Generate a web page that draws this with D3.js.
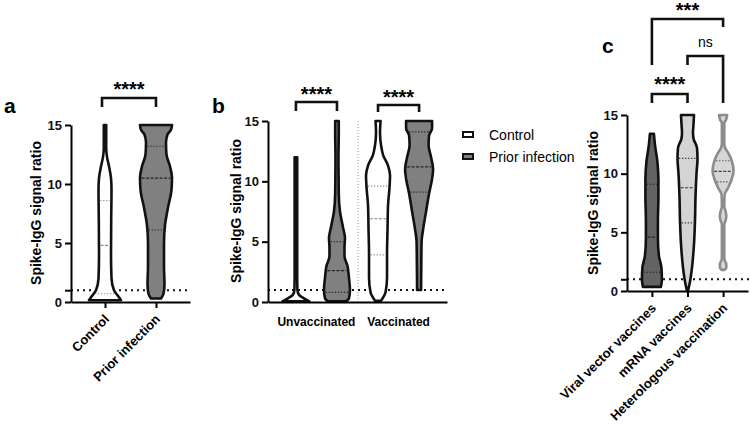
<!DOCTYPE html>
<html>
<head>
<meta charset="utf-8">
<script src="https://cdn.jsdelivr.net/npm/d3@7"></script>
<style>
body { margin: 0; background: #fff; }
text { font-family: "Liberation Sans", Arial, sans-serif; }
</style>
</head>
<body>
<svg width="751" height="428"></svg>
<script>
// ---- data ----
var yTicks = [0, 5, 10, 15];
var refLevel = 1;

var catsA = ["Control", "Prior infection"];
var groupsB = ["Unvaccinated", "Vaccinated"];
var seriesB = ["Control", "Prior infection"];
var catsC = ["Viral vector vaccines", "mRNA vaccines", "Heterologous vaccination"];

// violin outlines: [signal ratio, relative density]
var aControl = [[0.15,16],[0.4,14],[1,9],[2,6.5],[4,6],[7,6.2],[9.5,6.5],[10.5,6],[11.5,4],[12.3,2],[13,1.2],[15,1.2]];
var aPrior = [[0.3,5],[0.7,7.5],[1.5,8.5],[3,8],[5,8],[6.5,9],[8,12],[9.5,15.5],[10.5,16],[11.5,14],[12.5,10.5],[13.5,10],[14.2,11.5],[14.6,15],[15,16]];
var bUnvControl = [[0.05,13.5],[0.3,8],[0.6,3],[1,1.5],[2,1.3],[12,1.3]];
var bUnvPrior = [[0.05,9],[0.3,12],[1,13],[2,12],[3,10.5],[3.8,7.5],[4.5,7.5],[5.3,8],[6.2,6],[7.5,3],[9,1.8],[12,1.5],[14,1.8],[15,1.8]];
var bVacControl = [[0.1,3],[0.8,7.5],[2,9],[4,9],[6,9.5],[8,10],[9.5,11.5],[10.5,12],[11.3,10],[12.2,5],[13,3],[14,2],[15,2.5]];
var bVacPrior = [[1,2],[3,2.2],[5,2.5],[6,4],[7.5,7],[9,10],[10.2,13],[11,14],[12,12],[13,9.5],[13.8,10],[14.4,13],[15,13]];
var cViral = [[0.35,9],[1,10],[2,9.5],[3,7],[4.5,6],[6,6],[8,6.5],[9.5,6.5],[11,5.5],[12.5,3],[13.4,2]];
var cMrna = [[0,0.5],[0.8,2.5],[2,4.5],[4,6.5],[6,7.5],[8,8],[10,9],[11.3,10],[12.2,9.5],[13,6],[13.5,5.5],[14.2,6],[15,6.5]];
var cHetero = [[1.8,1.5],[2,3.2],[2.3,3.2],[2.7,1.3],[3.5,1.2],[5.7,1.2],[6,2.5],[6.4,3.2],[6.8,2.5],[7.2,1.2],[8.2,1.5],[8.8,5],[9.5,8.5],[10.2,10.5],[11,9],[11.8,5],[12.2,2],[12.6,1.2],[14.3,1.2],[14.6,3],[15,4]];

// quartiles: [Q1, median, Q3]
var aControlQ = [0.7, 4.8, 8.6];
var aPriorQ = [6.1, 10.5, 13.2];
var bUnvPriorQ = [0.8, 2.6, 5.0];
var bVacControlQ = [3.9, 6.9, 9.6];
var bVacPriorQ = [9.1, 11.2, 14.1];
var cViralQ = [1.6, 4.6, 9.1];
var cMrnaQ = [5.8, 8.8, 11.3];
var cHeteroQ = [9.3, 10.2, 11.1];

var svg = d3.select("svg");
var w = d3.scaleLinear().domain([0, 16]).range([0, 16]);

function yAxis(g, y, x0, vals) {
  var ax = g.append("g")
      .attr("transform", "translate(" + x0 + ",0)")
      .call(d3.axisLeft(y).tickValues(vals).tickSize(6).tickSizeOuter(0)
        .tickFormat(function(d) { return yTicks.indexOf(d) >= 0 ? d : ""; }));
  ax.attr("font-size", 13).attr("font-weight", "bold").attr("font-family", null);
  ax.selectAll("path, line").attr("stroke-width", 2);
  ax.selectAll("text").attr("fill", "#111");
}

function xAxis(g, x, y0, tick) {
  var ax = g.append("g")
      .attr("transform", "translate(0," + y0 + ")")
      .call(d3.axisBottom(x).tickSize(tick).tickSizeOuter(0).tickFormat(""));
  ax.selectAll("path, line").attr("stroke-width", 2);
}

function violin(g, cx, y, shape, quart, fill, stroke, qColor) {
  var area = d3.area().curve(d3.curveMonotoneY)
      .y(function(d) { return y(d[0]); })
      .x0(function(d) { return cx - w(d[1]); })
      .x1(function(d) { return cx + w(d[1]); });
  g.append("path").datum(shape)
      .attr("d", area)
      .attr("fill", fill)
      .attr("stroke", stroke)
      .attr("stroke-width", 2.6)
      .attr("stroke-linejoin", "round");
  if (!quart) return;
  var half = d3.scaleLinear().domain(shape.map(function(d) { return d[0]; }))
      .range(shape.map(function(d) { return d[1]; }));
  quart.forEach(function(q, i) {
    var hw = Math.max(w(half(q)) - 1.6, 1);
    g.append("line")
        .attr("x1", cx - hw).attr("x2", cx + hw)
        .attr("y1", y(q)).attr("y2", y(q))
        .attr("stroke", qColor)
        .attr("stroke-width", 1.2)
        .attr("stroke-dasharray", i == 1 ? "3,1.5" : "1.2,1.8");
  });
}

function refLine(g, y, xa, xb) {
  g.append("line")
      .attr("x1", xa).attr("x2", xb)
      .attr("y1", y(refLevel)).attr("y2", y(refLevel))
      .attr("stroke", "#111").attr("stroke-width", 2)
      .attr("stroke-dasharray", "2,4");
}

function bracket(g, xa, xb, top, ya, yb, label, ly, size, bold) {
  g.append("path")
      .attr("d", "M" + xa + "," + ya + "V" + top + "H" + xb + "V" + yb)
      .attr("fill", "none").attr("stroke", "#111").attr("stroke-width", 2.6);
  g.append("text")
      .attr("x", (xa + xb) / 2).attr("y", ly)
      .attr("text-anchor", "middle")
      .attr("font-size", size)
      .attr("font-weight", bold ? "bold" : "normal")
      .text(label);
}

function yTitle(g, x, yMid) {
  g.append("text")
      .attr("transform", "translate(" + x + "," + yMid + ") rotate(-90)")
      .attr("text-anchor", "middle")
      .attr("font-size", 14).attr("font-weight", "bold")
      .text("Spike-IgG signal ratio");
}

function rotLabels(g, x, cats, y0) {
  g.selectAll(".cat").data(cats).enter().append("text")
      .attr("transform", function(d) { return "translate(" + (x(d) + 5) + "," + (y0 + 18) + ") rotate(-45)"; })
      .attr("text-anchor", "end")
      .attr("font-size", 13).attr("font-weight", "bold")
      .text(function(d) { return d; });
}

function panelLetter(x, y, t) {
  svg.append("text").attr("x", x).attr("y", y)
      .attr("font-size", 21).attr("font-weight", "bold").text(t);
}

// ---- panel a ----
var gA = svg.append("g");
var yA = d3.scaleLinear().domain([0, 15]).range([302, 125]);
var xA = d3.scalePoint().domain(catsA).range([71, 190]).padding(0.667);
refLine(gA, yA, 71, 190);
violin(gA, xA(catsA[0]), yA, aControl, aControlQ, "#fff", "#111", "#888");
violin(gA, xA(catsA[1]), yA, aPrior, aPriorQ, "#808080", "#111", "#222");
yAxis(gA, yA, 71, [0, 1, 5, 10, 15]);
xAxis(gA, xA, 302, 6);
rotLabels(gA, xA, catsA, 302);
yTitle(gA, 41, 213);
bracket(gA, 102, xA(catsA[1]), 98, 107, 107, "****", 96, 20, true);
panelLetter(4, 113, "a");

// ---- panel b ----
var gB = svg.append("g");
var yB = d3.scaleLinear().domain([0, 15]).range([302, 121]);
var keysB = [];
groupsB.forEach(function(gr) { seriesB.forEach(function(s) { keysB.push(gr + "|" + s); }); });
var xB = d3.scalePoint().domain(keysB).range([268, 447]).padding(0.68);
refLine(gB, yB, 268, 447);
gB.append("line")
    .attr("x1", 358).attr("x2", 358).attr("y1", yB(15)).attr("y2", yB(0))
    .attr("stroke", "#999").attr("stroke-width", 1).attr("stroke-dasharray", "1,2");
violin(gB, xB(keysB[0]), yB, bUnvControl, null, "#fff", "#111", "#888");
violin(gB, xB(keysB[1]), yB, bUnvPrior, bUnvPriorQ, "#808080", "#111", "#222");
violin(gB, xB(keysB[2]), yB, bVacControl, bVacControlQ, "#fff", "#111", "#888");
violin(gB, xB(keysB[3]), yB, bVacPrior, bVacPriorQ, "#808080", "#111", "#222");
yAxis(gB, yB, 268, yTicks);
xAxis(gB, xB, 302, 0);
groupsB.forEach(function(gr) {
  var cx = (xB(gr + "|" + seriesB[0]) + xB(gr + "|" + seriesB[1])) / 2;
  gB.append("text").attr("x", cx).attr("y", 326)
      .attr("text-anchor", "middle").attr("font-size", 12).attr("font-weight", "bold")
      .text(gr);
});
yTitle(gB, 241, 211);
bracket(gB, xB(keysB[0]), xB(keysB[1]), 102, 111, 111, "****", 101, 20, true);
bracket(gB, xB(keysB[2]), xB(keysB[3]), 105, 112, 112, "****", 104, 20, true);
panelLetter(212, 113, "b");

// legend
var legFill = ["#fff", "#808080"];
seriesB.forEach(function(s, i) {
  svg.append("rect").attr("x", 463).attr("y", 132 + i * 22).attr("width", 10).attr("height", 5)
      .attr("fill", legFill[i]).attr("stroke", "#111").attr("stroke-width", 2);
  svg.append("text").attr("x", 489).attr("y", 140 + i * 22)
      .attr("font-size", 14).text(s);
});

// ---- panel c ----
var gC = svg.append("g");
var yC = d3.scaleLinear().domain([0, 15]).range([291, 115]);
var xC = d3.scalePoint().domain(catsC).range([627, 748]).padding(0.7);
refLine(gC, yC, 627, 751);
violin(gC, xC(catsC[0]), yC, cViral, cViralQ, "#636363", "#111", "#222");
violin(gC, xC(catsC[1]), yC, cMrna, cMrnaQ, "#d4d4d4", "#111", "#333");
violin(gC, xC(catsC[2]), yC, cHetero, cHeteroQ, "#d6d6d6", "#8c8c8c", "#444");
yAxis(gC, yC, 627, [0, 1, 5, 10, 15]);
xAxis(gC, xC, 291, 6);
rotLabels(gC, xC, catsC, 291);
yTitle(gC, 598, 203);
bracket(gC, xC(catsC[0]), xC(catsC[1]), 94, 103, 103, "****", 91, 20, true);
bracket(gC, xC(catsC[1]), xC(catsC[2]), 56, 65, 103, "ns", 47, 14, false);
bracket(gC, xC(catsC[0]), xC(catsC[2]), 19, 65, 27, "***", 17, 20, true);
panelLetter(602, 53, "c");
</script>
</body>
</html>
